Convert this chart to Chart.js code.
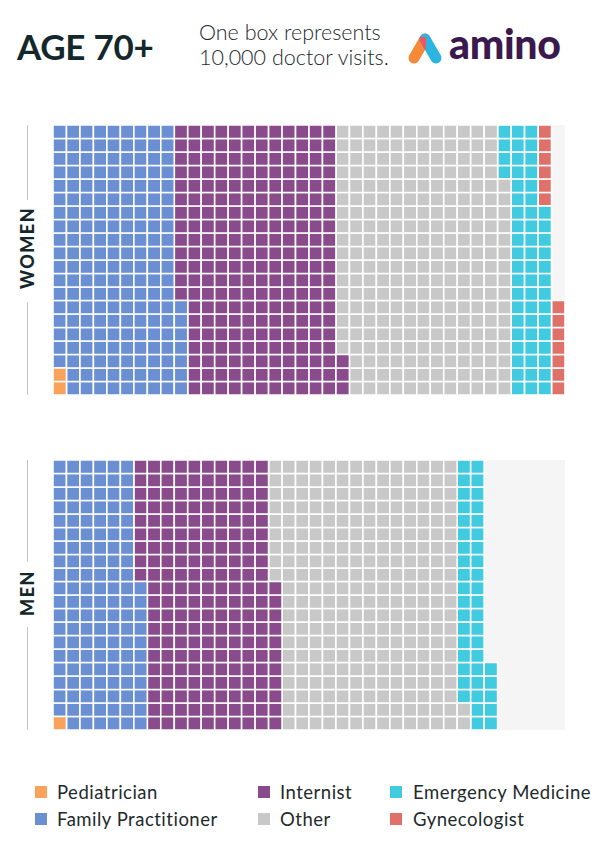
<!DOCTYPE html>
<html>
<head>
<meta charset="utf-8">
<script src="https://cdn.jsdelivr.net/npm/chart.js@4/dist/chart.umd.min.js"></script>
<style>
  body { margin: 0; background: #fff; font-family: Lato, "Open Sans", sans-serif; color: #14282c; }
  #page { position: relative; width: 600px; height: 855px; overflow: hidden; }
  .abs { position: absolute; }
  #title { left: 17px; top: 24px; font-size: 35px; font-weight: 700; letter-spacing: -0.3px; line-height: 44px; }
  #sub { left: 199px; top: 20px; font-size: 21.5px; font-weight: 300; line-height: 25px; color: #1e2a2c; }
  #logoText { left: 449px; top: 20px; font-size: 41px; font-weight: 900; color: #3a1a4c; letter-spacing: -0.3px; line-height: 48px; }
  .panel { position: absolute; left: 53px; width: 512px; height: 270px; }
  .side { position: absolute; width: 120px; text-align: center; font-size: 18px; font-weight: 900; letter-spacing: 1.5px; transform: rotate(-90deg); line-height: 20px; }
  .vline { position: absolute; left: 27px; width: 1px; background: #c4c4c4; }
  .leg { position: absolute; font-size: 18.5px; letter-spacing: 0.5px; line-height: 20px; color: #1e2a2c; white-space: nowrap; }
  .sw { position: absolute; width: 12px; height: 12px; }
</style>
</head>
<body>
<div id="page">
  <div id="title" class="abs">AGE 70+</div>
  <div id="sub" class="abs">One box represents<br>10,000 doctor visits.</div>
  <svg class="abs" style="left:405px;top:30px" width="42" height="38" viewBox="0 0 42 38">
    <defs>
      <mask id="rightLeg"><line x1="20" y1="9" x2="31" y2="28" stroke="#fff" stroke-width="11" stroke-linecap="round"/></mask>
    </defs>
    <line x1="9" y1="28" x2="20" y2="9" stroke="#f6893a" stroke-width="11" stroke-linecap="round"/>
    <line x1="20" y1="9" x2="31" y2="28" stroke="#2cb5e0" stroke-width="11" stroke-linecap="round"/>
    <line x1="9" y1="28" x2="20" y2="9" stroke="#ee5766" stroke-width="11" stroke-linecap="round" mask="url(#rightLeg)"/>
  </svg>
  <div id="logoText" class="abs">amino</div>

  <div class="vline" style="top:125px;height:75px"></div>
  <div class="side" style="left:-33px;top:238px">WOMEN</div>
  <div class="vline" style="top:302px;height:93px"></div>
  <div class="panel" style="top:125px"><canvas id="women"></canvas></div>

  <div class="vline" style="top:460px;height:102px"></div>
  <div class="side" style="left:-33px;top:583px">MEN</div>
  <div class="vline" style="top:627px;height:103px"></div>
  <div class="panel" style="top:460px"><canvas id="men"></canvas></div>

  <div id="legend"></div>
</div>
<script>
"use strict";

// one box = 10,000 doctor visits
const categories = ['Pediatrician', 'Family Practitioner', 'Internist', 'Other', 'Emergency Medicine', 'Gynecologist'];
const colors = ['#f9a25b', '#6a8fd3', '#8a4b8d', '#c8c8c8', '#40cbe0', '#e0716a'];
const women = [2, 185, 236, 253, 58, 13];
const men = [1, 130, 200, 271, 43, 0];
const ROWS = 20;
const COLS = 38;

// fill boxes column by column, bottom to top
function boxes(counts) {
    let i = 0;
    return counts.map(n => {
        const pts = [];
        for (let j = 0; j < n; j++, i++) {
            pts.push({ x: Math.floor(i / ROWS) + 0.5, y: (i % ROWS) + 0.5 });
        }
        return pts;
    });
}

const panelBg = {
    id: 'panelBg',
    beforeDatasetsDraw(chart) {
        const a = chart.chartArea;
        chart.ctx.save();
        chart.ctx.fillStyle = '#f5f5f5';
        chart.ctx.fillRect(a.left, a.top, a.right - a.left, a.bottom - a.top);
        chart.ctx.restore();
    }
};

function renderWaffle(id, counts) {
    const ctx = document.getElementById(id).getContext('2d');
    const side = 512 / COLS;
    const groups = boxes(counts);
    new Chart(ctx, {
        type: 'scatter',
        data: {
            datasets: categories.map((label, k) => ({
                label: label,
                data: groups[k],
                pointStyle: 'rect',
                pointRadius: side / Math.SQRT2,
                pointHoverRadius: side / Math.SQRT2,
                backgroundColor: colors[k],
                borderColor: '#ffffff',
                borderWidth: 1.6,
                clip: false
            }))
        },
        options: {
            responsive: true,
            maintainAspectRatio: false,
            animation: false,
            layout: { padding: 0, autoPadding: false },
            plugins: {
                legend: { display: false },
                tooltip: { enabled: false }
            },
            scales: {
                x: { type: 'linear', min: 0, max: COLS, display: false },
                y: { type: 'linear', min: 0, max: ROWS, display: false }
            }
        },
        plugins: [panelBg]
    });
}

renderWaffle('women', women);
renderWaffle('men', men);

// legend, laid out in three columns of two
const legendX = [[35, 57], [258, 280], [390, 413]];
const legendY = [792, 819];
const legend = document.getElementById('legend');
categories.forEach((label, k) => {
    const col = Math.floor(k / 2);
    const row = k % 2;
    const sw = document.createElement('div');
    sw.className = 'sw';
    sw.style.left = legendX[col][0] + 'px';
    sw.style.top = (legendY[row] - 6) + 'px';
    sw.style.background = colors[k];
    legend.appendChild(sw);
    const t = document.createElement('div');
    t.className = 'leg';
    t.style.left = legendX[col][1] + 'px';
    t.style.top = (legendY[row] - 10) + 'px';
    t.textContent = label;
    legend.appendChild(t);
});
</script>
</body>
</html>
